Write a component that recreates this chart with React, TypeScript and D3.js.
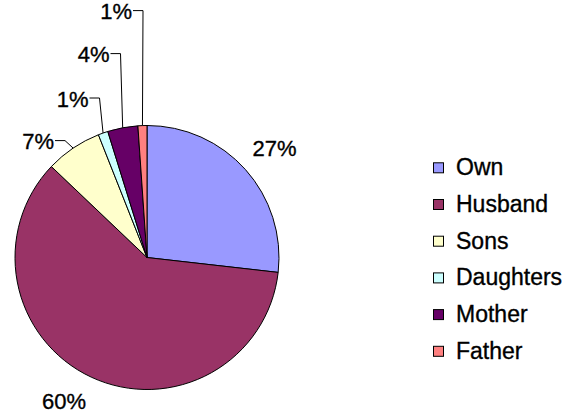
import React from "react";
import * as d3 from "d3";

const categories = ["Own", "Husband", "Sons", "Daughters", "Mother", "Father"];
const values = [26.8, 60.3, 6.9, 1.2, 3.7, 1.1];
const labels = ["27%", "60%", "7%", "1%", "4%", "1%"];
const colors = ["#9999FF", "#993366", "#FFFFCC", "#CCFFFF", "#660066", "#FF8080"];

// label layout: [x, baselineY, anchor, leader]
const labelLayout: [number, number, "start" | "end", boolean][] = [
  [252.5, 156, "start", false],
  [42, 409, "start", false],
  [54, 149.3, "end", true],
  [88.5, 106.7, "end", true],
  [109.5, 62.3, "end", true],
  [132, 19.3, "end", true],
];

const W = 564;
const H = 415;
const cx = 147;
const cy = 257.5;
const R = 132;
const FONT = "'Liberation Sans', Arial, sans-serif";

export default function App() {
  const pie = d3
    .pie<number>()
    .sort(null)
    .value((d) => d)
    .startAngle(0)
    .endAngle(2 * Math.PI);
  const arcs = pie(values);
  const arc = d3.arc<d3.PieArcDatum<number>>().innerRadius(0).outerRadius(R);

  const legendY = d3
    .scalePoint<string>()
    .domain(categories)
    .range([168.3, 351.8]);

  return (
    <svg
      width={W}
      height={H}
      style={{ position: "fixed", left: 0, top: 0, background: "#fff" }}
      fontFamily={FONT}
    >
      <rect width={W} height={H} fill="#fff" />
      <g transform={`translate(${cx},${cy})`}>
        {arcs.map((a, i) => (
          <path
            key={i}
            d={arc(a) || ""}
            fill={colors[i]}
            stroke="#000"
            strokeWidth={1}
            strokeLinejoin="round"
          />
        ))}
      </g>
      {arcs.map((a, i) => {
        const [lx, ly, anchor, leader] = labelLayout[i];
        const mid = (a.startAngle + a.endAngle) / 2;
        const px = cx + R * Math.sin(mid);
        const py = cy - R * Math.cos(mid);
        const lineY = ly - 8.7;
        return (
          <g key={i}>
            {leader && (
              <polyline
                points={`${px},${py} ${lx + 11},${lineY} ${lx + 1},${lineY}`}
                fill="none"
                stroke="#000"
                strokeWidth={1}
              />
            )}
            <text
              x={lx}
              y={ly}
              fontSize={22}
              textAnchor={anchor}
              fill="#000"
              stroke="#000"
              strokeWidth={0.35}
            >
              {labels[i]}
            </text>
          </g>
        );
      })}
      {categories.map((c, i) => {
        const y = legendY(c) as number;
        return (
          <g key={c}>
            <rect
              x={433.5}
              y={y - 5.5}
              width={10}
              height={10}
              fill={colors[i]}
              stroke="#000"
              strokeWidth={1}
            />
            <text
              x={456}
              y={y + 7}
              fontSize={23}
              fill="#000"
              stroke="#000"
              strokeWidth={0.35}
            >
              {c}
            </text>
          </g>
        );
      })}
    </svg>
  );
}
